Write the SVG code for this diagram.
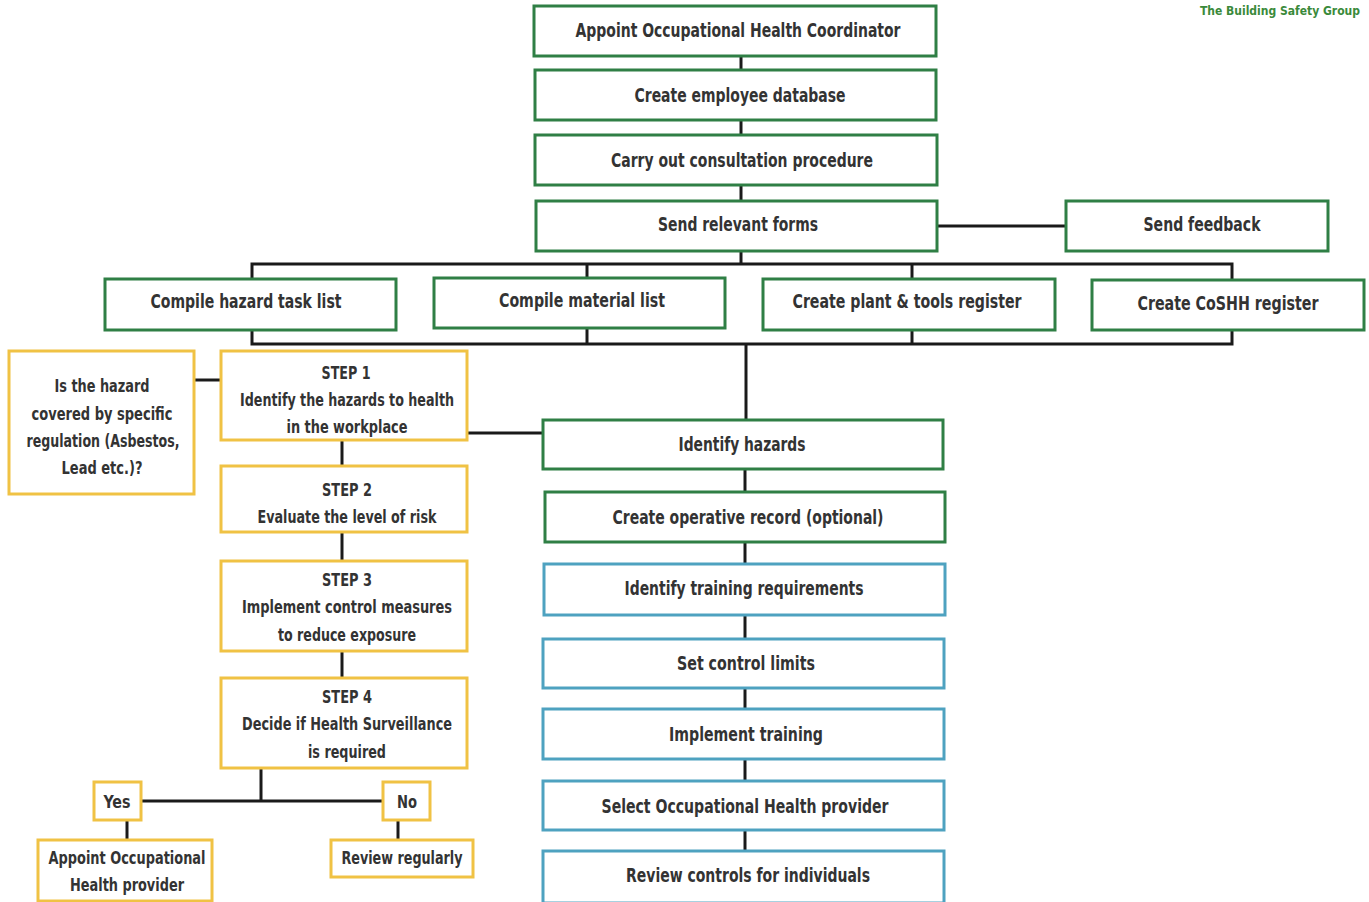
<svg xmlns="http://www.w3.org/2000/svg" width="1369" height="902" viewBox="0 0 1369 902">
<style>
.g{fill:#fff;stroke:#2f7f45;stroke-width:3}
.b{fill:#fff;stroke:#4ea2c0;stroke-width:3}
.y{fill:#fff;stroke:#f0c244;stroke-width:3}
text{font-family:"Liberation Sans Narrow","DejaVu Sans Condensed","Liberation Sans",sans-serif;font-weight:bold;fill:#333;text-anchor:middle;dominant-baseline:central}
.t{font-size:20px}
.s{font-size:18px}
.c line,.c polyline{stroke:#1a1a1a;stroke-width:3;fill:none}
</style>
<rect width="1369" height="902" fill="#fff"/>
<text x="1360" y="11" style="font-size:12px;fill:#3a8a3a;text-anchor:end">The Building Safety Group</text>
<g class="c" id="connectors">
<line x1="741" y1="56" x2="741" y2="70"/>
<line x1="741" y1="120" x2="741" y2="135"/>
<line x1="741" y1="185" x2="741" y2="201"/>
<line x1="937" y1="226" x2="1066" y2="226"/>
<line x1="741" y1="251" x2="741" y2="264"/>
<polyline points="252,279 252,264 1232,264 1232,280"/>
<line x1="587" y1="264" x2="587" y2="278"/>
<line x1="912" y1="264" x2="912" y2="279"/>
<polyline points="252,330 252,344 1232,344 1232,330"/>
<line x1="587" y1="328" x2="587" y2="344"/>
<line x1="912" y1="330" x2="912" y2="344"/>
<line x1="746" y1="344" x2="746" y2="420"/>
<line x1="467" y1="433" x2="543" y2="433"/>
<line x1="194" y1="380" x2="221" y2="380"/>
<line x1="342" y1="440" x2="342" y2="466"/>
<line x1="342" y1="532" x2="342" y2="561"/>
<line x1="342" y1="651" x2="342" y2="678"/>
<line x1="261" y1="768" x2="261" y2="801"/>
<line x1="141" y1="801" x2="383" y2="801"/>
<line x1="127" y1="820" x2="127" y2="840"/>
<line x1="398" y1="820" x2="398" y2="840"/>
<line x1="745" y1="469" x2="745" y2="492"/>
<line x1="745" y1="542" x2="745" y2="564"/>
<line x1="745" y1="615" x2="745" y2="639"/>
<line x1="745" y1="688" x2="745" y2="709"/>
<line x1="745" y1="759" x2="745" y2="781"/>
<line x1="745" y1="830" x2="745" y2="851"/>
</g>
<g id="n1"><rect class="g" x="534" y="6" width="402" height="50"/><text class="t" x="738" y="30" textLength="325" lengthAdjust="spacingAndGlyphs">Appoint Occupational Health Coordinator</text></g>
<g id="n2"><rect class="g" x="535" y="70" width="401" height="50"/><text class="t" x="740" y="95" textLength="211" lengthAdjust="spacingAndGlyphs">Create employee database</text></g>
<g id="n3"><rect class="g" x="535" y="135" width="402" height="50"/><text class="t" x="742" y="160" textLength="262" lengthAdjust="spacingAndGlyphs">Carry out consultation procedure</text></g>
<g id="n4"><rect class="g" x="536" y="201" width="401" height="50"/><text class="t" x="738" y="224" textLength="160" lengthAdjust="spacingAndGlyphs">Send relevant forms</text></g>
<g id="n5"><rect class="g" x="1066" y="201" width="262" height="50"/><text class="t" x="1202" y="224" textLength="117" lengthAdjust="spacingAndGlyphs">Send feedback</text></g>
<g id="n6"><rect class="g" x="105" y="279" width="291" height="51"/><text class="t" x="246" y="301" textLength="191" lengthAdjust="spacingAndGlyphs">Compile hazard task list</text></g>
<g id="n7"><rect class="g" x="434" y="278" width="291" height="50"/><text class="t" x="582" y="300" textLength="166" lengthAdjust="spacingAndGlyphs">Compile material list</text></g>
<g id="n8"><rect class="g" x="763" y="279" width="292" height="51"/><text class="t" x="907" y="301" textLength="229" lengthAdjust="spacingAndGlyphs">Create plant &amp; tools register</text></g>
<g id="n9"><rect class="g" x="1092" y="280" width="272" height="50"/><text class="t" x="1228" y="303" textLength="181" lengthAdjust="spacingAndGlyphs">Create CoSHH register</text></g>
<g id="n10"><rect class="g" x="543" y="420" width="400" height="49"/><text class="t" x="742" y="444" textLength="127" lengthAdjust="spacingAndGlyphs">Identify hazards</text></g>
<g id="n11"><rect class="g" x="545" y="492" width="400" height="50"/><text class="t" x="748" y="517" textLength="271" lengthAdjust="spacingAndGlyphs">Create operative record (optional)</text></g>
<g id="n12"><rect class="b" x="544" y="564" width="401" height="51"/><text class="t" x="744" y="588" textLength="239" lengthAdjust="spacingAndGlyphs">Identify training requirements</text></g>
<g id="n13"><rect class="b" x="543" y="639" width="401" height="49"/><text class="t" x="746" y="663" textLength="138" lengthAdjust="spacingAndGlyphs">Set control limits</text></g>
<g id="n14"><rect class="b" x="543" y="709" width="401" height="50"/><text class="t" x="746" y="734" textLength="154" lengthAdjust="spacingAndGlyphs">Implement training</text></g>
<g id="n15"><rect class="b" x="543" y="781" width="401" height="49"/><text class="t" x="745" y="806" textLength="287" lengthAdjust="spacingAndGlyphs">Select Occupational Health provider</text></g>
<g id="n16"><rect class="b" x="543" y="851" width="401" height="52"/><text class="t" x="748" y="875" textLength="244" lengthAdjust="spacingAndGlyphs">Review controls for individuals</text></g>
<g id="q1"><rect class="y" x="9" y="351" width="185" height="143"/>
<text class="s" x="102" y="385" textLength="95" lengthAdjust="spacingAndGlyphs">Is the hazard</text>
<text class="s" x="102" y="413" textLength="141" lengthAdjust="spacingAndGlyphs">covered by specific</text>
<text class="s" x="103" y="440" textLength="153" lengthAdjust="spacingAndGlyphs">regulation (Asbestos,</text>
<text class="s" x="102" y="467" textLength="81" lengthAdjust="spacingAndGlyphs">Lead etc.)?</text></g>
<g id="s1"><rect class="y" x="221" y="351" width="246" height="89"/>
<text class="s" x="346" y="372" textLength="49" lengthAdjust="spacingAndGlyphs">STEP 1</text>
<text class="s" x="347" y="399" textLength="214" lengthAdjust="spacingAndGlyphs">Identify the hazards to health</text>
<text class="s" x="347" y="426" textLength="121" lengthAdjust="spacingAndGlyphs">in the workplace</text></g>
<g id="s2"><rect class="y" x="221" y="466" width="246" height="66"/>
<text class="s" x="347" y="489" textLength="50" lengthAdjust="spacingAndGlyphs">STEP 2</text>
<text class="s" x="347" y="516" textLength="179" lengthAdjust="spacingAndGlyphs">Evaluate the level of risk</text></g>
<g id="s3"><rect class="y" x="221" y="561" width="246" height="90"/>
<text class="s" x="347" y="579" textLength="50" lengthAdjust="spacingAndGlyphs">STEP 3</text>
<text class="s" x="347" y="606" textLength="210" lengthAdjust="spacingAndGlyphs">Implement control measures</text>
<text class="s" x="347" y="634" textLength="138" lengthAdjust="spacingAndGlyphs">to reduce exposure</text></g>
<g id="s4"><rect class="y" x="221" y="678" width="246" height="90"/>
<text class="s" x="347" y="696" textLength="50" lengthAdjust="spacingAndGlyphs">STEP 4</text>
<text class="s" x="347" y="723" textLength="210" lengthAdjust="spacingAndGlyphs">Decide if Health Surveillance</text>
<text class="s" x="347" y="751" textLength="78" lengthAdjust="spacingAndGlyphs">is required</text></g>
<g id="yes"><rect class="y" x="94" y="782" width="47" height="38"/><text class="s" x="117" y="801" textLength="27" lengthAdjust="spacingAndGlyphs">Yes</text></g>
<g id="no"><rect class="y" x="383" y="782" width="47" height="38"/><text class="s" x="407" y="801" textLength="20" lengthAdjust="spacingAndGlyphs">No</text></g>
<g id="r1"><rect class="y" x="38" y="840" width="174" height="61"/>
<text class="s" x="127" y="857" textLength="157" lengthAdjust="spacingAndGlyphs">Appoint Occupational</text>
<text class="s" x="127" y="884" textLength="114" lengthAdjust="spacingAndGlyphs">Health provider</text></g>
<g id="r2"><rect class="y" x="331" y="840" width="142" height="37"/><text class="s" x="402" y="857" textLength="121" lengthAdjust="spacingAndGlyphs">Review regularly</text></g>
</svg>
